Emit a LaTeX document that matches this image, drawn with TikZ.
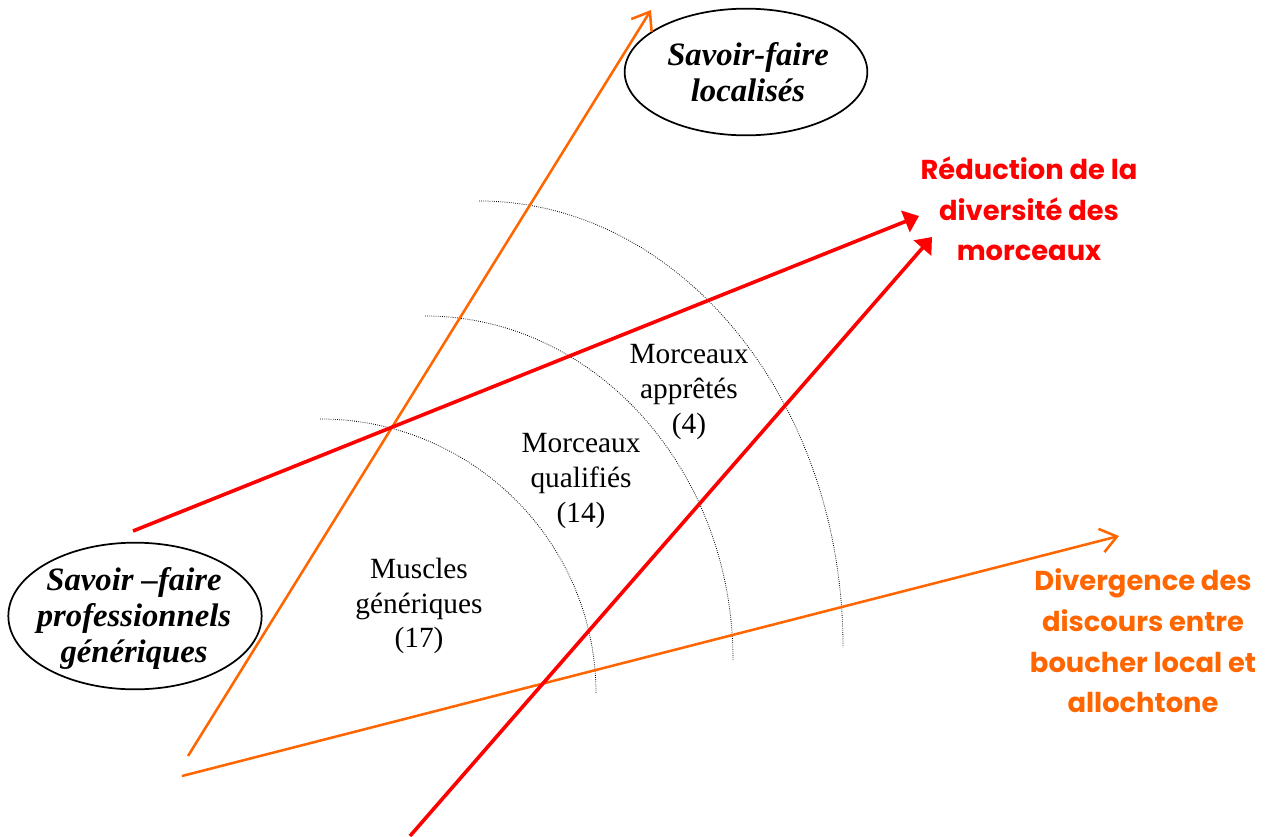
\documentclass[tikz,border=0pt]{standalone}
\usepackage{fontspec}
\setmainfont{Liberation Serif}
\newfontfamily\comic{Poppins}
\usetikzlibrary{arrows.meta}
\definecolor{orng}{RGB}{255,102,0}
\tikzset{
  ell/.style={align=center,inner sep=0pt,
    font=\fontsize{24.5}{27}\selectfont\bfseries\itshape},
  rim/.style={line width=1.3pt},
  cat/.style={align=center,inner sep=0pt,font=\fontsize{22}{26}\selectfont},
  note/.style={align=center,inner sep=0pt,font=\comic\fontsize{20.5}{30.5}\selectfont\bfseries},
  arcd/.style={densely dotted,line width=0.6pt},
  oar/.style={orng,line width=1.9pt,-{Straight Barb[length=12pt,width=18pt]}},
  rar/.style={red,line width=2.7pt,-{Triangle[length=11pt,width=17pt]}},
}
\begin{document}
\begin{tikzpicture}[x=0.75pt,y=-0.75pt]
\useasboundingbox (0,0) rectangle (1271,836);
% zones
\coordinate (z1) at (320,419); \coordinate (z2) at (425,316); \coordinate (z3) at (479,201);
\draw[arcd] (z1) arc[start angle=90,end angle=0,x radius=207pt,y radius=206pt];
\draw[arcd] (z2) arc[start angle=90,end angle=0,x radius=231pt,y radius=258pt];
\draw[arcd] (z3) arc[start angle=90,end angle=0,x radius=273pt,y radius=334.5pt];
\node[cat] (musc) at (419,606) {Muscles\\génériques\\(17)};
\node[cat] (qual) at (581,481) {Morceaux\\qualifiés\\(14)};
\node[cat] (appr) at (689,392) {Morceaux\\apprêtés\\(4)};
% ellipses
\node[ell] (loc) at (748,72) {Savoir-faire\\localisés};
\draw[rim] (746,72) ellipse[x radius=91pt,y radius=47.5pt];
\node[ell] (gen) at (134,618) {Savoir --faire\\professionnels\\génériques};
\draw[rim] (135,616) ellipse[x radius=95pt,y radius=55pt];
% arrows
\coordinate (o1s) at (188,756); \coordinate (o1e) at (651,10);
\coordinate (o2s) at (182,776); \coordinate (o2e) at (1119,536);
\coordinate (r1s) at (133,531); \coordinate (r1e) at (919,216);
\coordinate (r2s) at (410,836); \coordinate (r2e) at (932,237);
\draw[oar] (o1s) -- (o1e);
\draw[oar] (o2s) -- (o2e);
\draw[rar] (r1s) -- (r1e);
\draw[rar] (r2s) -- (r2e);
% labels
\node[note,red] (red) at (1029,209) {Réduction de la\\diversité des\\morceaux};
\node[note,orng] (div) at (1143,641) {Divergence des\\discours entre\\boucher local et\\allochtone};
\end{tikzpicture}
\end{document}
